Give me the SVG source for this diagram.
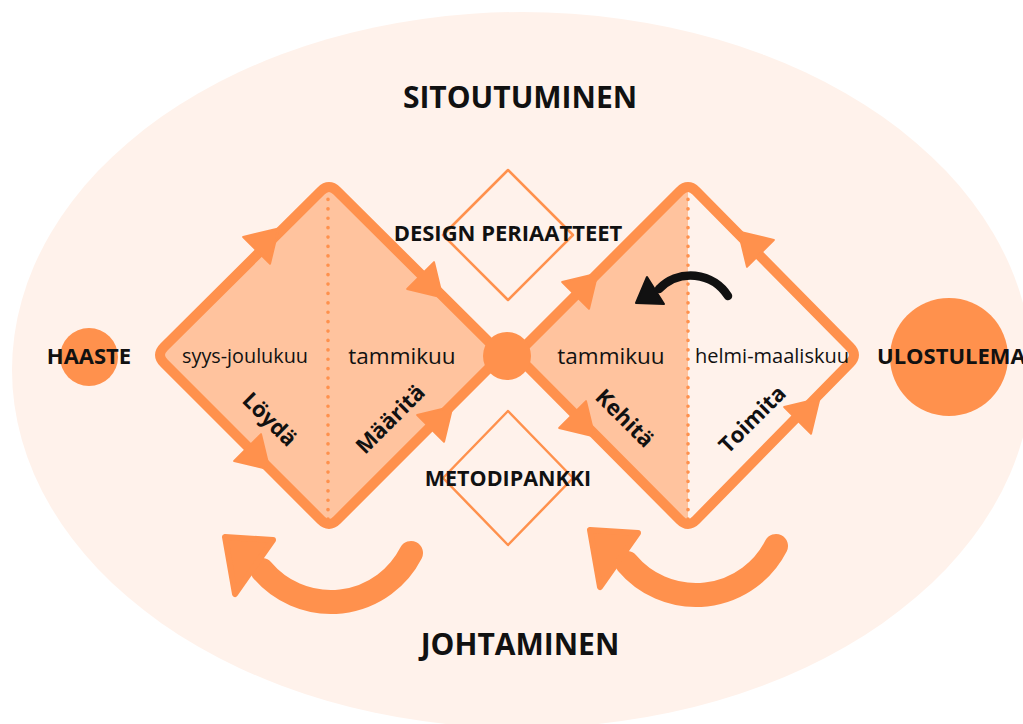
<svg xmlns="http://www.w3.org/2000/svg" width="1023" height="724" viewBox="0 0 1023 724">
  <style>
    .lbl { font-family: "Open Sans", "Noto Sans", sans-serif; fill: #111; }
    .b { font-weight: 700; }
    .r { font-weight: 400; }
    .edge { fill: none; stroke: #FF914D; stroke-width: 10; stroke-linejoin: round; stroke-linecap: round; }
    .thin { fill: none; stroke: #FF914D; stroke-width: 2.5; stroke-linejoin: round; }
    .dots { fill: none; stroke: #FF914D; stroke-width: 3.6; stroke-linecap: round; stroke-dasharray: 0.1 9.3; }
    .org { fill: #FF914D; }
  </style>
  <defs>
    <path id="ah" d="M -2,-19 L 29,0 L -2,19 Z" fill="#FF914D" stroke="#FF914D" stroke-width="2" stroke-linejoin="round"/>
    <g id="loop">
      <path d="M 411 553 A 90 90 0 0 1 262 570" fill="none" stroke="#FF914D" stroke-width="24" stroke-linecap="round"/>
      <path d="M 225 537 L 273 540 L 235 594 Z" fill="#FF914D" stroke="#FF914D" stroke-width="6" stroke-linejoin="round"/>
    </g>
  </defs>

  <rect width="1023" height="724" fill="#FFFFFF"/>
  <ellipse cx="522" cy="370" rx="510" ry="358" fill="#FFF2EB"/>

  <!-- Left double-diamond half: discover / define -->
  <g id="diamond-left">
    <path d="M 321 191 L 164 347 Q 156 355 164 363 L 321 520 Q 329 528 337 520 L 494 363 Q 502 355 494 347 L 337 191 Q 329 183 321 191 Z" fill="#FFC39E"/>
    <path class="edge" d="M 321 191 L 164 347 Q 156 355 164 363 L 321 520 Q 329 528 337 520 L 494 363 Q 502 355 494 347 L 337 191 Q 329 183 321 191 Z"/>
    <line class="dots" x1="328" y1="190" x2="328" y2="522"/>
  </g>

  <!-- Right double-diamond half: develop / deliver -->
  <g id="diamond-right">
    <path d="M 688 183 L 516 355 L 688 528 Z" fill="#FFC39E"/>
    <path class="edge" d="M 680 191 L 524 347 Q 516 355 524 363 L 680 520 Q 688 528 696 520 L 850 363 Q 858 355 850 347 L 696 191 Q 688 183 680 191 Z"/>
    <line class="dots" x1="688" y1="190" x2="688" y2="522"/>
  </g>

  <!-- Flow arrowheads on the diamond edges -->
  <g id="connectors">
    <use href="#ah" transform="translate(258 249) rotate(-45)"/>
    <use href="#ah" transform="translate(422 277) rotate(45)"/>
    <use href="#ah" transform="translate(249 449) rotate(45)"/>
    <use href="#ah" transform="translate(432 427) rotate(-45)"/>
    <use href="#ah" transform="translate(577 294) rotate(-45)"/>
    <use href="#ah" transform="translate(759 252) rotate(-135)"/>
    <use href="#ah" transform="translate(574 416) rotate(45)"/>
    <use href="#ah" transform="translate(799 419) rotate(-45)"/>

    <!-- iteration loops below the diamonds -->
    <use href="#loop"/>
    <use href="#loop" transform="translate(365 -7)"/>

    <!-- feedback arrow from deliver back to develop -->
    <path d="M 728 296 A 44 44 0 0 0 659 289" fill="none" stroke="#111" stroke-width="8.5" stroke-linecap="round"/>
    <path d="M 647 277 L 636 303 L 664 304 Z" fill="#111" stroke="#111" stroke-width="2" stroke-linejoin="round"/>
  </g>

  <g id="hub">
    <circle class="org" cx="507" cy="356" r="24"/>
  </g>

  <g id="design-principles">
    <path class="thin" d="M 508 170 L 443 235 L 508 300 L 573 235 Z"/>
    <text class="lbl b" x="508" y="241" font-size="22" text-anchor="middle">DESIGN PERIAATTEET</text>
  </g>

  <g id="method-bank">
    <path class="thin" d="M 508 411 L 443 478 L 508 545 L 573 478 Z"/>
    <text class="lbl b" x="508" y="486" font-size="21.5" text-anchor="middle">METODIPANKKI</text>
  </g>

  <g id="challenge">
    <circle class="org" cx="89" cy="357" r="29"/>
    <text class="lbl b" x="89" y="364" font-size="22" text-anchor="middle">HAASTE</text>
  </g>

  <g id="outcome">
    <circle class="org" cx="949" cy="357" r="59"/>
    <text class="lbl b" x="877" y="364" font-size="22">ULOSTULEMA</text>
  </g>

  <g id="titles">
    <text class="lbl b" x="520" y="108" font-size="30" text-anchor="middle">SITOUTUMINEN</text>
    <text class="lbl b" x="520" y="655" font-size="30" text-anchor="middle">JOHTAMINEN</text>
  </g>

  <g id="phase-texts">
    <text class="lbl r" x="245" y="363" font-size="19.8" text-anchor="middle">syys-joulukuu</text>
    <text class="lbl r" x="402" y="364" font-size="22.5" text-anchor="middle">tammikuu</text>
    <text class="lbl r" x="611" y="364" font-size="22.5" text-anchor="middle">tammikuu</text>
    <text class="lbl r" x="772" y="363" font-size="20" text-anchor="middle">helmi-maaliskuu</text>
    <text class="lbl b" font-size="22" text-anchor="middle" transform="translate(270 419) rotate(45)" dy="8">Löydä</text>
    <text class="lbl b" font-size="22" text-anchor="middle" transform="translate(390 419) rotate(-45)" dy="8">Määritä</text>
    <text class="lbl b" font-size="22" text-anchor="middle" transform="translate(625 418) rotate(45)" dy="8">Kehitä</text>
    <text class="lbl b" font-size="22" text-anchor="middle" transform="translate(752 419) rotate(-45)" dy="8">Toimita</text>
  </g>
</svg>
